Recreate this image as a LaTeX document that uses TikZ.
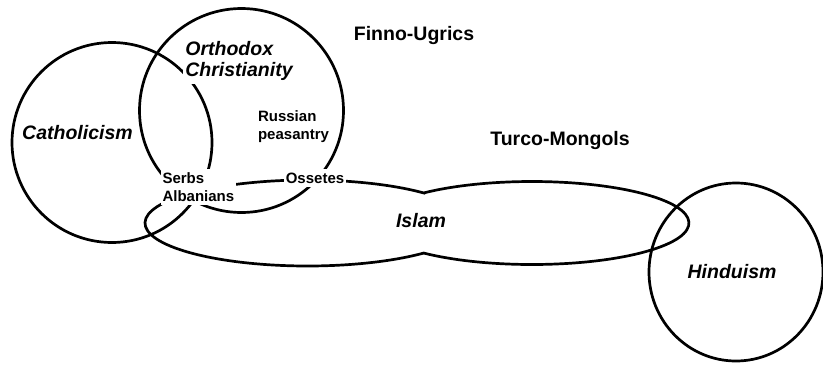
\documentclass[tikz,border=0pt]{standalone}
\usepackage{fontspec}
\setmainfont{Liberation Sans}
\begin{document}
\begin{tikzpicture}[x=1pt,y=1pt,
  ring/.style={draw=black, line width=2.7pt},
  relig/.style={font=\fontsize{19.5}{21}\selectfont\bfseries\itshape, fill=white,
    inner xsep=2pt, inner ysep=3.5pt, align=left},
  people/.style={font=\fontsize{19.5}{21}\selectfont\bfseries, fill=white,
    inner xsep=2pt, inner ysep=3.5pt, align=left},
  group/.style={font=\fontsize{15}{18.3}\selectfont\bfseries, fill=white,
    inner xsep=2pt, inner ysep=3.5pt, align=left}]
\useasboundingbox (0,0) rectangle (823,-365);
\fill[white] (0,0) rectangle (823,-365);
% circles
\draw[ring] (112,-142.5) circle[radius=100];
\draw[ring] (241.5,-110.5) circle[radius=102];
\draw[ring] (736,-272) ellipse[x radius=87, y radius=89];
% Islam (union of two ellipses)
\draw[ring] (423.7,-192.95)
  arc[start angle=44.34, end angle=315.66, x radius=162.5, y radius=43]
  arc[start angle=226.4, end angle=493.6, x radius=157, y radius=41.5] -- cycle;
% labels
\node[relig, anchor=base] (cath) at (77.5,-139) {Catholicism};
\node[relig] (orth) at (239,-60.5) {Orthodox\\Christianity};
\node[relig, anchor=base] (islam) at (421,-227) {Islam};
\node[relig, anchor=base] (hindu) at (732,-278) {Hinduism};
\node[people, anchor=base] (finno) at (414,-40) {Finno-Ugrics};
\node[people, anchor=base] (turco) at (560,-145) {Turco-Mongols};
\node[group] (russ) at (293.5,-126.75) {Russian\\peasantry};
\node[group] (serbs) at (198.4,-187.1) {Serbs\\Albanians};
\node[group, anchor=base] (oss) at (315,-183) {Ossetes};
\end{tikzpicture}
\end{document}
